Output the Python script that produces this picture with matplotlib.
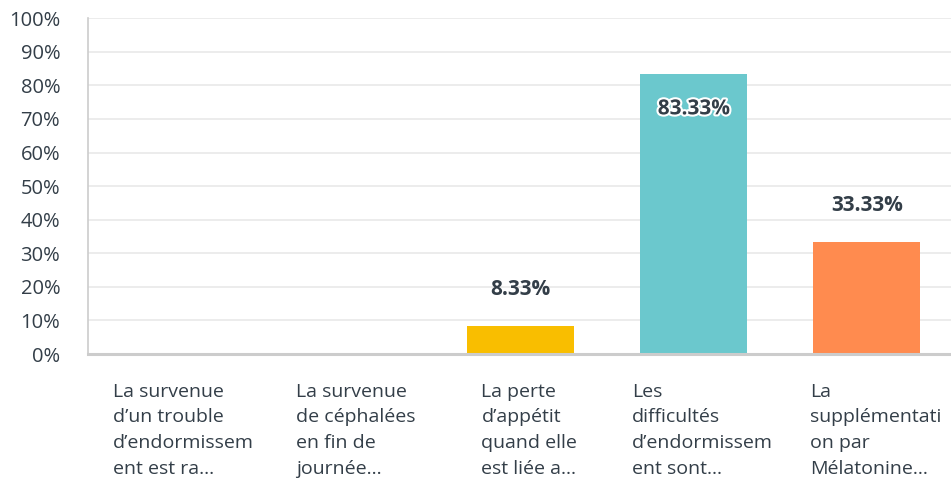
import matplotlib.pyplot as plt
import matplotlib.patheffects as pe
from matplotlib.ticker import FuncFormatter

# données
categories = [
    "La survenue\nd\u2019un trouble\nd\u2019endormissem\nent est ra\u2026",
    "La survenue\nde céphalées\nen fin de\njournée\u2026",
    "La perte\nd\u2019appétit\nquand elle\nest liée a\u2026",
    "Les\ndifficultés\nd\u2019endormissem\nent sont\u2026",
    "La\nsupplémentati\non par\nMélatonine\u2026",
]
values = [0.0, 0.0, 8.33, 83.33, 33.33]
colors = ["#6BC8CD", "#FF8B4F", "#F9BE00", "#6BC8CD", "#FF8B4F"]

plt.rcParams['font.family'] = ['Open Sans', 'DejaVu Sans']
txt_col = "#333e48"

fig = plt.figure(figsize=(9.51, 4.86), dpi=100)
ax = fig.add_axes([0.0925, 0.2716, 0.910, 0.691])

for i, v in enumerate(values):
    if v > 0:
        ax.bar(i, v, width=0.62, color=colors[i], zorder=2)

ax.set_xlim(-0.5, len(values) - 0.5)
ax.set_ylim(0, 100)
ax.set_yticks(range(0, 101, 10))
ax.yaxis.set_major_formatter(FuncFormatter(lambda v, p: f"{int(v)}%"))
ax.tick_params(axis='y', length=0, pad=20, labelsize=14.5, labelcolor=txt_col)
ax.set_xticks([])
ax.grid(axis='y', color="#e9e9e9", linewidth=1.2, zorder=0)

for s in ['top', 'right']:
    ax.spines[s].set_visible(False)
ax.spines['left'].set_color("#cccccc")
ax.spines['left'].set_linewidth(1.2)
ax.spines['bottom'].set_color("#cccccc")
ax.spines['bottom'].set_linewidth(2.2)

# étiquettes de valeur
for i, v in enumerate(values):
    if v <= 0:
        continue
    if v > 75:
        ax.annotate(f"{v:.2f}%", (i, v), xytext=(0, -25), textcoords='offset points',
                    ha='center', va='center', fontsize=15, fontweight='bold',
                    color=txt_col,
                    path_effects=[pe.withStroke(linewidth=3, foreground='white')])
    else:
        ax.annotate(f"{v:.2f}%", (i, v), xytext=(0, 26), textcoords='offset points',
                    ha='center', va='center', fontsize=15, fontweight='bold',
                    color=txt_col)

# libellés des catégories
for i, lab in enumerate(categories):
    ax.text(i + 0.05, -0.085, lab, transform=ax.get_xaxis_transform(),
            ha='center', va='top', multialignment='left', fontsize=14,
            color=txt_col, linespacing=1.55)

fig.savefig("out.png", dpi=100)
